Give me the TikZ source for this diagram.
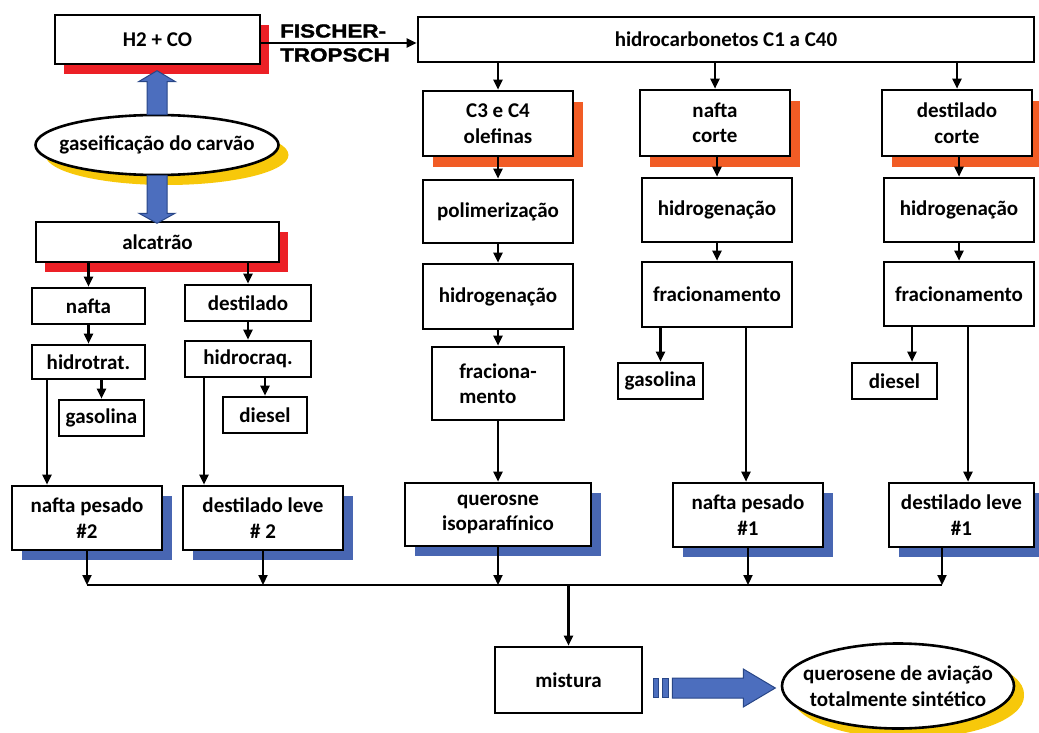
\documentclass[tikz,border=0pt]{standalone}
\usepackage{fontspec}
\setmainfont{Carlito}
\newfontfamily\ftfont[BoldFeatures={FakeBold=1.5}]{Liberation Sans}
\usetikzlibrary{arrows.meta,shapes.geometric,shadows}
\definecolor{shred}{RGB}{236,32,38}
\definecolor{shorange}{RGB}{241,92,37}
\definecolor{shblue}{RGB}{72,102,178}
\definecolor{shyellow}{RGB}{247,200,10}
\definecolor{arrowblue}{RGB}{76,110,190}
\definecolor{arrowedge}{RGB}{40,70,135}

\tikzset{
  box/.style={draw, line width=2.6pt, fill=white, inner sep=0pt, align=center,
    font=\bfseries\fontsize{21}{25.5}\selectfont},
  redbox/.style={box, drop shadow={shadow xshift=9pt, shadow yshift=-10pt, fill=shred, opacity=1}},
  orangebox/.style={box, drop shadow={shadow xshift=10pt, shadow yshift=-11pt, fill=shorange, opacity=1}},
  bluebox/.style={box, drop shadow={shadow xshift=10pt, shadow yshift=-10pt, fill=shblue, opacity=1}},
  oval/.style={box, ellipse, inner xsep=-15pt, drop shadow={shadow xshift=10pt, shadow yshift=-10pt, fill=shyellow, opacity=1}},
  conn/.style={line width=2.2pt, -{Triangle[length=10pt,width=9pt]}},
  fatarrow/.style={fill=arrowblue, draw=arrowedge, line width=1pt},
}

\begin{document}
\begin{tikzpicture}[x=1pt,y=-1pt]
\useasboundingbox (0,0) rectangle (1039,733);

\node[redbox, minimum width=205pt, minimum height=49pt] (h2co) at (157.5,39.5) {H2 + CO};
\node[align=left, inner sep=0pt, font=\ftfont\bfseries\fontsize{19}{24}\selectfont] (ftlabel) at (335,43) {\scalebox{1.18}[1]{FISCHER-}\\\scalebox{1.18}[1]{TROPSCH}};
\node[box, minimum width=616pt, minimum height=45pt] (hc) at (726,39.5) {hidrocarbonetos C1 a C40};
\node[oval, minimum width=243pt, minimum height=60pt] (gas) at (157,145) {gaseificação do carvão};
\node[redbox, minimum width=243pt, minimum height=40pt] (alc) at (157.5,242) {alcatrão};

\node[box, minimum width=113pt, minimum height=36pt] (nafta) at (88.5,306) {nafta};
\node[box, minimum width=113pt, minimum height=34pt] (hidrotrat) at (88.5,362) {hidrotrat.};
\node[box, minimum width=85pt, minimum height=36pt] (gasolinaL) at (101.5,418) {gasolina};
\node[box, minimum width=126pt, minimum height=36pt] (destilado) at (248,303) {destilado};
\node[box, minimum width=126pt, minimum height=36pt] (hidrocraq) at (248,359) {hidrocraq.};
\node[box, minimum width=84pt, minimum height=36pt] (dieselL) at (265,415) {diesel};
\node[bluebox, minimum width=150pt, minimum height=64pt] (np2) at (87,518) {nafta pesado\\\#2};
\node[bluebox, minimum width=160pt, minimum height=64pt] (dl2) at (263,518) {destilado leve\\\# 2};

\node[orangebox, minimum width=150pt, minimum height=65pt] (c3c4) at (498,123.5) {C3 e C4\\olefinas};
\node[box, minimum width=150pt, minimum height=63pt] (polim) at (498,211.5) {polimerização};
\node[box, minimum width=150pt, minimum height=65pt] (hidro1) at (498,296.5) {hidrogenação};
\node[box, align=left, minimum width=132pt, minimum height=73pt] (fracm) at (498,383.5) {fraciona-\\mento};
\node[bluebox, minimum width=186pt, minimum height=63pt] (quer) at (498,514.5) {querosne\\isoparafínico};

\node[orangebox, minimum width=150pt, minimum height=66pt] (naftac) at (715,123) {nafta\\corte};
\node[box, minimum width=150pt, minimum height=64pt] (hidro2) at (717,210) {hidrogenação};
\node[box, minimum width=150pt, minimum height=65pt] (frac2) at (717,294.5) {fracionamento};
\node[box, minimum width=85pt, minimum height=36pt] (gasolinaR) at (660.5,381) {gasolina};
\node[bluebox, minimum width=150pt, minimum height=64pt] (np1) at (748,515) {nafta pesado\\\#1};

\node[orangebox, minimum width=150pt, minimum height=66pt] (destc) at (957,123) {destilado\\corte};
\node[box, minimum width=150pt, minimum height=64pt] (hidro3) at (959,210) {hidrogenação};
\node[box, minimum width=150pt, minimum height=64pt] (frac3) at (959,294) {fracionamento};
\node[box, minimum width=85pt, minimum height=36pt] (dieselR) at (894.5,381) {diesel};
\node[bluebox, minimum width=145pt, minimum height=64pt] (dl1) at (961.5,515) {destilado leve\\\#1};

\node[box, minimum width=147pt, minimum height=66pt] (mist) at (568.5,680) {mistura};
\node[oval, inner xsep=-16pt, minimum width=232pt, minimum height=85pt, drop shadow={shadow xshift=10pt, shadow yshift=-8pt, fill=shyellow, opacity=1}] (fin) at (898,686) {querosene de aviação\\totalmente sintético};

\coordinate (bus) at (0,585);
\coordinate (np2in) at (47,0);
\coordinate (dl2in) at (204,0);
\coordinate (np1in) at (746,0);
\coordinate (dieselRin) at (912,0);
\coordinate (dl1in) at (968,0);
\coordinate (dl1out) at (942,0);

\draw[conn] (h2co.east |- ftlabel) -- (hc.west |- ftlabel);

\draw[conn] (alc.south -| nafta.north) -- (nafta.north);
\draw[conn] (alc.south -| destilado.north) -- (destilado.north);
\draw[conn] (nafta.south) -- (hidrotrat.north);
\draw[conn] (hidrotrat.south -| gasolinaL.north) -- (gasolinaL.north);
\draw[conn] (np2in |- hidrotrat.south) -- (np2in |- np2.north);
\draw[conn] (destilado.south) -- (hidrocraq.north);
\draw[conn] (hidrocraq.south -| dieselL.north) -- (dieselL.north);
\draw[conn] (dl2in |- hidrocraq.south) -- (dl2in |- dl2.north);

\draw[conn] (hc.south -| c3c4.north) -- (c3c4.north);
\draw[conn] (hc.south -| naftac.north) -- (naftac.north);
\draw[conn] (hc.south -| destc.north) -- (destc.north);
\draw[conn] (c3c4.south) -- (polim.north);
\draw[conn] (polim.south) -- (hidro1.north);
\draw[conn] (hidro1.south) -- (fracm.north);
\draw[conn] (fracm.south) -- (quer.north);
\draw[conn] (naftac.south -| hidro2.north) -- (hidro2.north);
\draw[conn] (hidro2.south) -- (frac2.north);
\draw[conn] (frac2.south -| gasolinaR.north) -- (gasolinaR.north);
\draw[conn] (np1in |- frac2.south) -- (np1in |- np1.north);
\draw[conn] (destc.south -| hidro3.north) -- (hidro3.north);
\draw[conn] (hidro3.south) -- (frac3.north);
\draw[conn] (dieselRin |- frac3.south) -- (dieselRin |- dieselR.north);
\draw[conn] (dl1in |- frac3.south) -- (dl1in |- dl1.north);

\draw[line width=2.2pt] (np2.south |- bus) -- (dl1out |- bus);
\draw[conn] (np2.south) -- (np2.south |- bus);
\draw[conn] (dl2.south) -- (dl2.south |- bus);
\draw[conn] (quer.south) -- (quer.south |- bus);
\draw[conn] (np1.south) -- (np1.south |- bus);
\draw[conn] (dl1out |- dl1.south) -- (dl1out |- bus);
\draw[conn] (mist.north |- bus) -- (mist.north);

\filldraw[fatarrow] (gas.north) ++(-10,1) -- ++(0,-33) -- ++(-8.5,0) -- ++(18.5,-11) -- ++(18.5,11) -- ++(-8.5,0) -- ++(0,33) -- cycle;
\filldraw[fatarrow] (gas.south) ++(-10,-1) -- ++(0,38) -- ++(-8,0) -- ++(18,10) -- ++(18,-10) -- ++(-8,0) -- ++(0,-38) -- cycle;

\filldraw[fatarrow] (mist.east) ++(10,-1.5) rectangle ++(5,19);
\filldraw[fatarrow] (mist.east) ++(19,-1.5) rectangle ++(6,19);
\filldraw[fatarrow] (mist.east) ++(29,-2) -- ++(71,0) -- ++(0,-9) -- ++(32,19) -- ++(-32,19) -- ++(0,-9) -- ++(-71,0) -- cycle;
\end{tikzpicture}
\end{document}
